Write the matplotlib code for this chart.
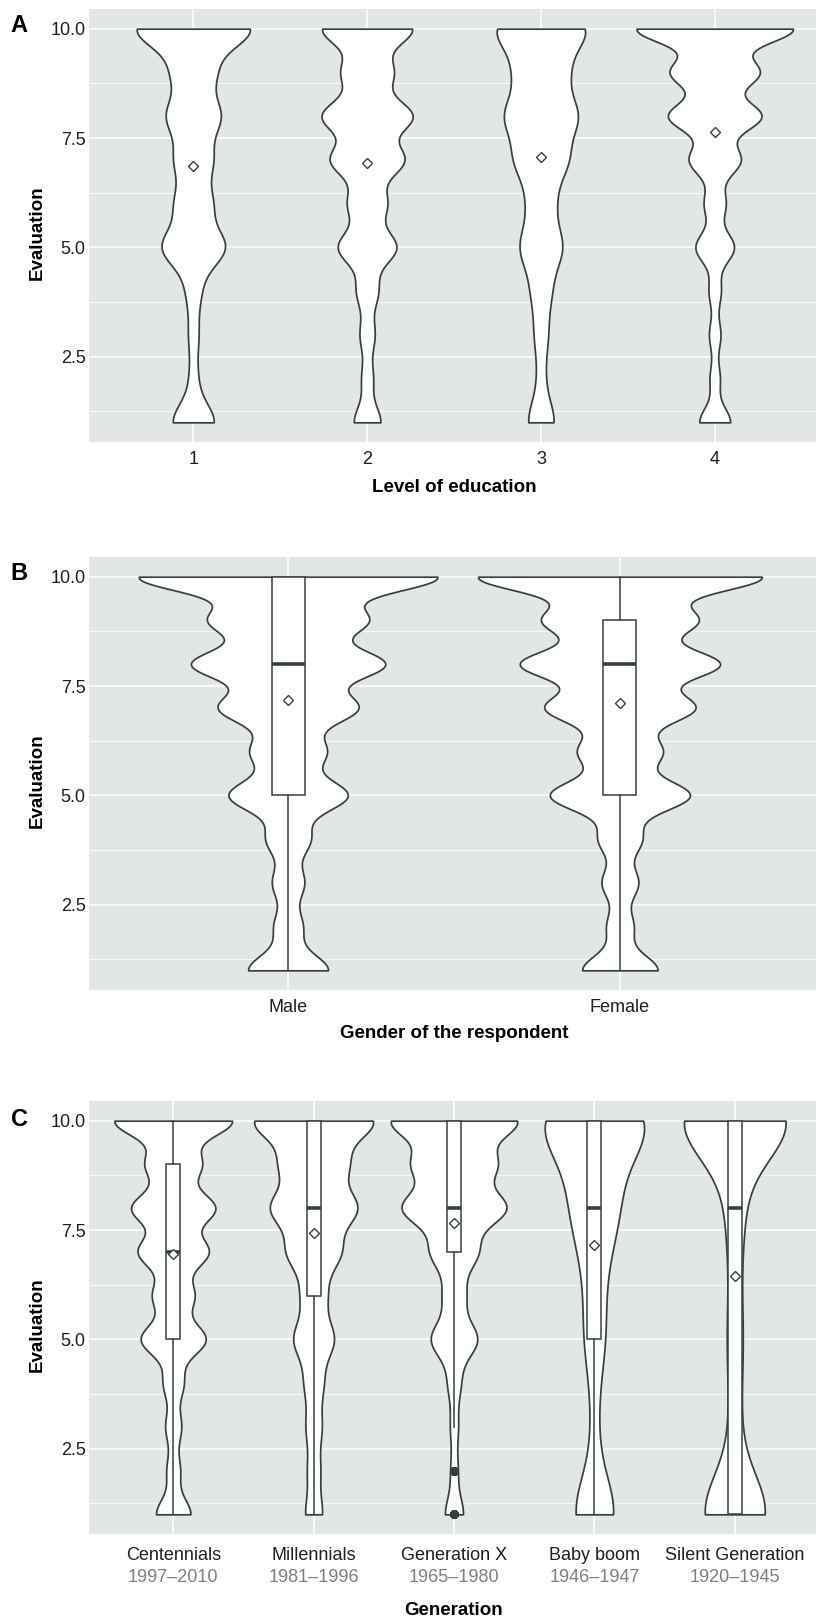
import numpy as np
import matplotlib.pyplot as plt
from matplotlib import mlab

plt.rcParams['font.family'] = ['Liberation Sans', 'DejaVu Sans']

# evaluation scores and how many respondents gave each (score 1..10)
scores = np.arange(1, 11)

edu_labels = ['1', '2', '3', '4']
edu_counts = [
    [835, 155, 192, 276, 1242, 704, 718, 1035, 800, 2277],
    [506, 215, 278, 404, 1100, 720, 1378, 1694, 948, 1706],
    [214, 57, 104, 152, 332, 201, 406, 555, 384, 719],
    [450, 146, 165, 175, 560, 310, 747, 1348, 1280, 2280],
]

gender_labels = ['Male', 'Female']
gender_counts = [
    [990, 347, 388, 536, 1460, 908, 1691, 2351, 1898, 3688],
    [927, 322, 443, 524, 1709, 1008, 1814, 2418, 1854, 3482],
]

gen_labels = ['Centennials', 'Millennials', 'Generation X', 'Baby boom', 'Silent Generation']
gen_years = ['1997–2010', '1981–1996', '1965–1980', '1946–1947', '1920–1945']
gen_counts = [
    [908, 347, 413, 528, 1700, 1073, 1832, 2178, 1436, 3102],
    [159, 115, 145, 174, 379, 228, 496, 799, 599, 1138],
    [127, 49, 54, 88, 323, 152, 323, 714, 562, 880],
    [103, 12, 12, 12, 42, 27, 46, 91, 62, 252],
    [300, 32, 32, 32, 48, 32, 32, 64, 32, 520],
]

LINE = '#36413E'
BG = '#E2E7E3'
W, H = 816, 1616


def nrd0(x):
    # same rule of thumb bandwidth as R's bw.nrd0
    q1, q3 = np.percentile(x, [25, 75])
    return 0.9 * min(np.std(x, ddof=1), (q3 - q1) / 1.34) * len(x) ** -0.2


def draw_panel(ax, counts, labels, boxes):
    data = [np.repeat(scores, c).astype(float) for c in counts]
    pos = np.arange(1, len(data) + 1)
    stats = []
    for d in data:
        kde = mlab.GaussianKDE(d, bw_method=nrd0(d) / np.std(d, ddof=1))
        grid = np.linspace(d.min(), d.max(), 512)
        stats.append(dict(coords=grid, vals=kde.evaluate(grid), mean=d.mean(),
                          median=np.median(d), min=d.min(), max=d.max()))
    # scale="area": all violins share one density scale
    peak = max(s['vals'].max() for s in stats)
    widths = [0.9 * s['vals'].max() / peak for s in stats]
    parts = ax.violin(stats, positions=pos, widths=widths, showextrema=False)
    for b in parts['bodies']:
        b.set_facecolor('white')
        b.set_edgecolor(LINE)
        b.set_linewidth(1.25)
        b.set_alpha(1)
        b.set_zorder(1)

    if boxes:
        ax.boxplot(data, positions=pos, widths=0.1, patch_artist=True,
                   showcaps=False, manage_ticks=False,
                   boxprops=dict(facecolor='white', edgecolor=LINE, linewidth=1.1),
                   whiskerprops=dict(color=LINE, linewidth=1.1),
                   medianprops=dict(color=LINE, linewidth=2.6),
                   flierprops=dict(marker='o', markerfacecolor=LINE,
                                   markeredgecolor=LINE, markersize=5))

    means = [d.mean() for d in data]
    ax.plot(pos, means, linestyle='none', marker='D', ms=5, mfc='white',
            mec=LINE, mew=1.0, zorder=4)

    ax.set_facecolor(BG)
    ax.set_xlim(0.4, len(data) + 0.6)
    ax.set_ylim(0.55, 10.45)
    ax.set_xticks(pos, labels)
    ax.set_yticks([2.5, 5, 7.5, 10], ['2.5', '5.0', '7.5', '10.0'])
    ax.set_yticks([1.25, 3.75, 6.25, 8.75], minor=True)
    ax.grid(which='major', color='white', lw=1.1)
    ax.grid(which='minor', axis='y', color='white', lw=0.55)
    ax.set_axisbelow(True)
    for s in ax.spines.values():
        s.set_visible(False)
    ax.tick_params(which='both', length=0, labelsize=13, labelcolor='#1E1E1E')
    ax.tick_params(axis='x', pad=6.4)
    ax.tick_params(axis='y', pad=2.5)
    return pos


def rect(top, bottom):
    return [89 / W, 1 - bottom / H, (819 - 89) / W, (bottom - top) / H]


fig = plt.figure(figsize=(W / 100, H / 100), dpi=100)

axA = fig.add_axes(rect(9, 442))
axB = fig.add_axes(rect(557, 990))
axC = fig.add_axes(rect(1101, 1534))

draw_panel(axA, edu_counts, edu_labels, boxes=False)
draw_panel(axB, gender_counts, gender_labels, boxes=True)
posC = draw_panel(axC, gen_counts, gen_labels, boxes=True)
axC.tick_params(axis='x', pad=9.2)

for p, yr in zip(posC, gen_years):
    axC.annotate(yr, xy=(p, 0), xycoords=('data', 'axes fraction'),
                 xytext=(0, -31.6), textcoords='offset points',
                 ha='center', va='center', fontsize=13, color='#7F7F7F')

xtitles = [('Level of education', 487.2), ('Gender of the respondent', 1033.2),
           ('Generation', 1610.2)]
for txt, y in xtitles:
    fig.text(454 / W, 1 - y / H, txt, ha='center', va='center',
             fontsize=13.5, fontweight='bold')

for y in [233, 780.5, 1325]:
    fig.text(37 / W, 1 - y / H, 'Evaluation', ha='center', va='center',
             rotation=90, fontsize=13.5, fontweight='bold')

for letter, y in [('A', 26), ('B', 574), ('C', 1119.5)]:
    fig.text(19 / W, 1 - y / H, letter, ha='center', va='center',
             fontsize=17, fontweight='bold')

fig.savefig('out.png', dpi=100)
